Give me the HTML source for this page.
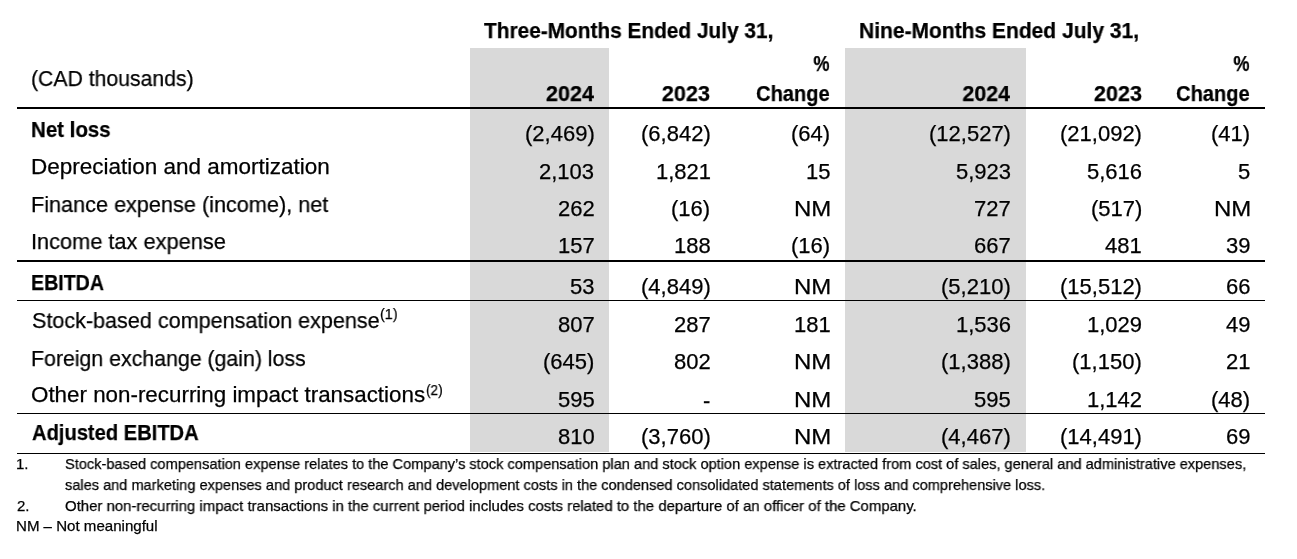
<!DOCTYPE html>
<html><head><meta charset="utf-8"><style>
html,body{margin:0;padding:0;background:#fff;}
body{width:1297px;height:559px;position:relative;overflow:hidden;font-family:"Liberation Sans",sans-serif;color:#000;}
.b{position:absolute;}
.t{position:absolute;white-space:nowrap;line-height:1;transform-origin:0 0;will-change:transform;-webkit-text-stroke:0.25px #000;}
.t.r{transform-origin:100% 0;}
</style></head><body>
<div class="b" style="left:470px;top:48px;width:139px;height:404px;background:#d9d9d9"></div>
<div class="b" style="left:845px;top:48px;width:181px;height:404px;background:#d9d9d9"></div>
<div class="b" style="left:17px;top:107px;width:1248px;height:2px;background:#000"></div>
<div class="b" style="left:17px;top:260px;width:1248px;height:2px;background:#000"></div>
<div class="b" style="left:17px;top:300px;width:1248px;height:1px;background:#000"></div>
<div class="b" style="left:17px;top:413px;width:1248px;height:1px;background:#000"></div>
<div class="b" style="left:17px;top:453px;width:1248px;height:1px;background:#000"></div>
<div class="t" style="left:484.06px;top:20.18px;font-size:22px;font-weight:700;transform:scaleX(0.9468)">Three-Months Ended July 31,</div>
<div class="t" style="left:858.67px;top:20.18px;font-size:22px;font-weight:700;transform:scaleX(0.9546)">Nine-Months Ended July 31,</div>
<div class="t" style="left:31.28px;top:67.98px;font-size:22px;font-weight:400;transform:scaleX(0.9633)">(CAD thousands)</div>
<div class="t r" style="right:703.43px;top:83.38px;font-size:22px;font-weight:700;transform:scaleX(0.9808)">2024</div>
<div class="t r" style="right:586.82px;top:83.38px;font-size:22px;font-weight:700;transform:scaleX(0.9832)">2023</div>
<div class="t r" style="right:466.88px;top:83.38px;font-size:22px;font-weight:700;transform:scaleX(0.9125)">Change</div>
<div class="t r" style="right:286.93px;top:83.38px;font-size:22px;font-weight:700;transform:scaleX(0.9704)">2024</div>
<div class="t r" style="right:155.32px;top:83.38px;font-size:22px;font-weight:700;transform:scaleX(0.9811)">2023</div>
<div class="t r" style="right:47.18px;top:83.38px;font-size:22px;font-weight:700;transform:scaleX(0.9125)">Change</div>
<div class="t r" style="right:467.03px;top:53.38px;font-size:22px;font-weight:700;transform:scaleX(0.8270)">%</div>
<div class="t r" style="right:47.33px;top:53.38px;font-size:22px;font-weight:700;transform:scaleX(0.8270)">%</div>
<div class="t" style="left:31.10px;top:119.38px;font-size:22px;font-weight:700;transform:scaleX(0.9309)">Net loss</div>
<div class="t r" style="right:702.66px;top:123.38px;font-size:22px;font-weight:400;transform:scaleX(1.0000)">(2,469)</div>
<div class="t r" style="right:586.66px;top:123.38px;font-size:22px;font-weight:400;transform:scaleX(1.0000)">(6,842)</div>
<div class="t r" style="right:466.62px;top:123.38px;font-size:22px;font-weight:400;transform:scaleX(1.0000)">(64)</div>
<div class="t r" style="right:286.18px;top:123.38px;font-size:22px;font-weight:400;transform:scaleX(1.0000)">(12,527)</div>
<div class="t r" style="right:155.18px;top:123.38px;font-size:22px;font-weight:400;transform:scaleX(1.0000)">(21,092)</div>
<div class="t r" style="right:46.92px;top:123.38px;font-size:22px;font-weight:400;transform:scaleX(1.0000)">(41)</div>
<div class="t" style="left:30.71px;top:156.38px;font-size:22px;font-weight:400;transform:scaleX(1.0220)">Depreciation and amortization</div>
<div class="t r" style="right:702.57px;top:161.38px;font-size:22px;font-weight:400;transform:scaleX(1.0000)">2,103</div>
<div class="t r" style="right:586.44px;top:161.38px;font-size:22px;font-weight:400;transform:scaleX(1.0000)">1,821</div>
<div class="t r" style="right:466.65px;top:161.38px;font-size:22px;font-weight:400;transform:scaleX(1.0000)">15</div>
<div class="t r" style="right:286.07px;top:161.38px;font-size:22px;font-weight:400;transform:scaleX(1.0000)">5,923</div>
<div class="t r" style="right:155.07px;top:161.38px;font-size:22px;font-weight:400;transform:scaleX(1.0000)">5,616</div>
<div class="t r" style="right:46.94px;top:161.38px;font-size:22px;font-weight:400;transform:scaleX(1.0000)">5</div>
<div class="t" style="left:30.78px;top:193.88px;font-size:22px;font-weight:400;transform:scaleX(0.9842)">Finance expense (income), net</div>
<div class="t r" style="right:702.42px;top:197.68px;font-size:22px;font-weight:400;transform:scaleX(1.0000)">262</div>
<div class="t r" style="right:586.62px;top:197.68px;font-size:22px;font-weight:400;transform:scaleX(1.0000)">(16)</div>
<div class="t r" style="right:465.99px;top:197.68px;font-size:22px;font-weight:400;transform:scaleX(1.0906)">NM</div>
<div class="t r" style="right:285.92px;top:197.68px;font-size:22px;font-weight:400;transform:scaleX(1.0000)">727</div>
<div class="t r" style="right:155.14px;top:197.68px;font-size:22px;font-weight:400;transform:scaleX(1.0000)">(517)</div>
<div class="t r" style="right:46.29px;top:197.68px;font-size:22px;font-weight:400;transform:scaleX(1.0906)">NM</div>
<div class="t" style="left:30.52px;top:230.98px;font-size:22px;font-weight:400;transform:scaleX(0.9893)">Income tax expense</div>
<div class="t r" style="right:702.42px;top:235.18px;font-size:22px;font-weight:400;transform:scaleX(1.0000)">157</div>
<div class="t r" style="right:586.54px;top:235.18px;font-size:22px;font-weight:400;transform:scaleX(1.0000)">188</div>
<div class="t r" style="right:466.62px;top:235.18px;font-size:22px;font-weight:400;transform:scaleX(1.0000)">(16)</div>
<div class="t r" style="right:285.92px;top:235.18px;font-size:22px;font-weight:400;transform:scaleX(1.0000)">667</div>
<div class="t r" style="right:154.92px;top:235.18px;font-size:22px;font-weight:400;transform:scaleX(1.0000)">481</div>
<div class="t r" style="right:46.83px;top:235.18px;font-size:22px;font-weight:400;transform:scaleX(1.0000)">39</div>
<div class="t" style="left:31.16px;top:271.98px;font-size:22px;font-weight:700;transform:scaleX(0.8915)">EBITDA</div>
<div class="t r" style="right:702.53px;top:275.88px;font-size:22px;font-weight:400;transform:scaleX(1.0000)">53</div>
<div class="t r" style="right:586.66px;top:275.88px;font-size:22px;font-weight:400;transform:scaleX(1.0000)">(4,849)</div>
<div class="t r" style="right:465.99px;top:275.88px;font-size:22px;font-weight:400;transform:scaleX(1.0906)">NM</div>
<div class="t r" style="right:286.16px;top:275.88px;font-size:22px;font-weight:400;transform:scaleX(1.0000)">(5,210)</div>
<div class="t r" style="right:155.18px;top:275.88px;font-size:22px;font-weight:400;transform:scaleX(1.0000)">(15,512)</div>
<div class="t r" style="right:46.83px;top:275.88px;font-size:22px;font-weight:400;transform:scaleX(1.0000)">66</div>
<div class="t" style="left:31.52px;top:310.38px;font-size:22px;font-weight:400;transform:scaleX(0.9800)">Stock-based compensation expense</div>
<div class="t r" style="right:702.42px;top:314.38px;font-size:22px;font-weight:400;transform:scaleX(1.0000)">807</div>
<div class="t r" style="right:586.42px;top:314.38px;font-size:22px;font-weight:400;transform:scaleX(1.0000)">287</div>
<div class="t r" style="right:466.42px;top:314.38px;font-size:22px;font-weight:400;transform:scaleX(1.0000)">181</div>
<div class="t r" style="right:286.07px;top:314.38px;font-size:22px;font-weight:400;transform:scaleX(1.0000)">1,536</div>
<div class="t r" style="right:155.07px;top:314.38px;font-size:22px;font-weight:400;transform:scaleX(1.0000)">1,029</div>
<div class="t r" style="right:46.83px;top:314.38px;font-size:22px;font-weight:400;transform:scaleX(1.0000)">49</div>
<div class="t" style="left:30.81px;top:348.08px;font-size:22px;font-weight:400;transform:scaleX(0.9682)">Foreign exchange (gain) loss</div>
<div class="t r" style="right:702.64px;top:351.38px;font-size:22px;font-weight:400;transform:scaleX(1.0000)">(645)</div>
<div class="t r" style="right:586.42px;top:351.38px;font-size:22px;font-weight:400;transform:scaleX(1.0000)">802</div>
<div class="t r" style="right:465.99px;top:351.38px;font-size:22px;font-weight:400;transform:scaleX(1.0906)">NM</div>
<div class="t r" style="right:286.16px;top:351.38px;font-size:22px;font-weight:400;transform:scaleX(1.0000)">(1,388)</div>
<div class="t r" style="right:155.16px;top:351.38px;font-size:22px;font-weight:400;transform:scaleX(1.0000)">(1,150)</div>
<div class="t r" style="right:46.70px;top:351.38px;font-size:22px;font-weight:400;transform:scaleX(1.0000)">21</div>
<div class="t" style="left:31.48px;top:384.38px;font-size:22px;font-weight:400;transform:scaleX(1.0167)">Other non-recurring impact transactions</div>
<div class="t r" style="right:702.67px;top:388.98px;font-size:22px;font-weight:400;transform:scaleX(1.0000)">595</div>
<div class="t r" style="right:586.55px;top:389.98px;font-size:22px;font-weight:400;transform:scaleX(1.0000)">-</div>
<div class="t r" style="right:465.99px;top:388.98px;font-size:22px;font-weight:400;transform:scaleX(1.0906)">NM</div>
<div class="t r" style="right:286.17px;top:388.98px;font-size:22px;font-weight:400;transform:scaleX(1.0000)">595</div>
<div class="t r" style="right:154.94px;top:388.98px;font-size:22px;font-weight:400;transform:scaleX(1.0000)">1,142</div>
<div class="t r" style="right:46.92px;top:388.98px;font-size:22px;font-weight:400;transform:scaleX(1.0000)">(48)</div>
<div class="t" style="left:32.04px;top:422.38px;font-size:22px;font-weight:700;transform:scaleX(0.9149)">Adjusted EBITDA</div>
<div class="t r" style="right:702.67px;top:426.38px;font-size:22px;font-weight:400;transform:scaleX(1.0000)">810</div>
<div class="t r" style="right:586.66px;top:426.38px;font-size:22px;font-weight:400;transform:scaleX(1.0000)">(3,760)</div>
<div class="t r" style="right:465.99px;top:426.38px;font-size:22px;font-weight:400;transform:scaleX(1.0906)">NM</div>
<div class="t r" style="right:286.16px;top:426.38px;font-size:22px;font-weight:400;transform:scaleX(1.0000)">(4,467)</div>
<div class="t r" style="right:155.18px;top:426.38px;font-size:22px;font-weight:400;transform:scaleX(1.0000)">(14,491)</div>
<div class="t r" style="right:46.83px;top:426.38px;font-size:22px;font-weight:400;transform:scaleX(1.0000)">69</div>
<div class="t" style="left:379.84px;top:307.13px;font-size:14.5px;font-weight:400;transform:scaleX(0.9875)">(1)</div>
<div class="t" style="left:425.78px;top:382.53px;font-size:14.5px;font-weight:400;transform:scaleX(0.9375)">(2)</div>
<div class="t" style="left:16.27px;top:456.00px;font-size:15px;font-weight:400;transform:scaleX(1.0000)">1.</div>
<div class="t" style="left:64.89px;top:456.00px;font-size:15px;font-weight:400;transform:scaleX(0.9725)">Stock-based compensation expense relates to the Company’s stock compensation plan and stock option expense is extracted from cost of sales, general and administrative expenses,</div>
<div class="t" style="left:65.14px;top:477.30px;font-size:15px;font-weight:400;transform:scaleX(0.9715)">sales and marketing expenses and product research and development costs in the condensed consolidated statements of loss and comprehensive loss.</div>
<div class="t" style="left:16.65px;top:497.70px;font-size:15px;font-weight:400;transform:scaleX(1.0000)">2.</div>
<div class="t" style="left:64.75px;top:497.70px;font-size:15px;font-weight:400;transform:scaleX(0.9953)">Other non-recurring impact transactions in the current period includes costs related to the departure of an officer of the Company.</div>
<div class="t" style="left:16.14px;top:518.30px;font-size:15px;font-weight:400;transform:scaleX(1.0047)">NM – Not meaningful</div>
</body></html>
